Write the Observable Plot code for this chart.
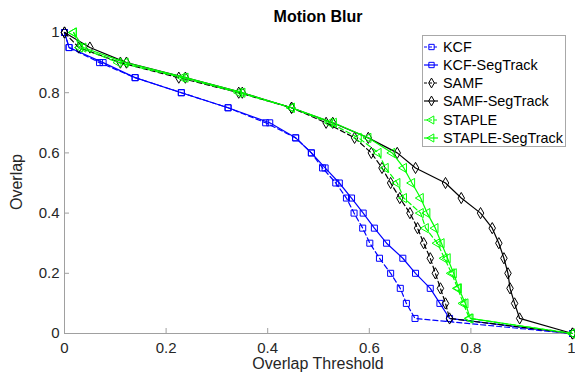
<!DOCTYPE html>
<html><head><meta charset="utf-8">
<script src="https://cdn.jsdelivr.net/npm/d3@7"></script>
<script src="https://cdn.jsdelivr.net/npm/@observablehq/plot@0.6"></script>
<style>
body{margin:0;background:#fff;}
#wrap{position:relative;width:575px;height:380px;font-family:"Liberation Sans",Arial,Helvetica,sans-serif;}
.lbl{position:absolute;color:#262626;white-space:nowrap;line-height:16px;font-size:16px;}
#legend{position:absolute;left:422px;top:35px;width:144px;height:112px;box-sizing:border-box;border:1px solid #a8a8a8;background:#fff;}
.lrow{position:absolute;left:0;height:18px;line-height:18px;font-size:14.4px;color:#000;white-space:nowrap;}
.lrow svg{position:absolute;left:0;top:0;}
.lrow span{position:absolute;left:20px;top:0;}
</style></head><body><div id="wrap"></div>
<script>
// Overlap levels at which each curve is sampled
const levels = [1, 0.95, 0.9, 0.85, 0.8, 0.75, 0.7, 0.65, 0.6, 0.55, 0.5, 0.45, 0.4, 0.35, 0.3, 0.25, 0.2, 0.15, 0.1, 0.05, 0];
// Overlap threshold (x) per series at each level
const kcf       = [0, 0.009, 0.069, 0.139, 0.23, 0.322, 0.396, 0.455, 0.486, 0.508, 0.534, 0.555, 0.570, 0.587, 0.601, 0.620, 0.642, 0.661, 0.673, 0.690, 1];
const kcfSeg    = [0, 0.009, 0.076, 0.139, 0.23, 0.322, 0.404, 0.455, 0.486, 0.513, 0.541, 0.565, 0.588, 0.610, 0.634, 0.666, 0.691, 0.720, 0.739, 0.758, 1];
const samf      = [0, 0.028, 0.110, 0.225, 0.343, 0.447, 0.515, 0.571, 0.604, 0.625, 0.642, 0.660, 0.680, 0.695, 0.707, 0.720, 0.730, 0.740, 0.750, 0.758, 1];
const samfSeg   = [0, 0.050, 0.122, 0.238, 0.350, 0.447, 0.528, 0.598, 0.655, 0.691, 0.750, 0.781, 0.819, 0.842, 0.855, 0.865, 0.873, 0.877, 0.886, 0.896, 1];
const staple    = [0.018, 0.030, 0.106, 0.232, 0.343, 0.447, 0.522, 0.579, 0.618, 0.632, 0.655, 0.668, 0.701, 0.711, 0.734, 0.748, 0.762, 0.774, 0.785, 0.797, 1];
const stapleSeg = [0.018, 0.037, 0.120, 0.238, 0.350, 0.447, 0.530, 0.598, 0.645, 0.668, 0.684, 0.701, 0.714, 0.730, 0.742, 0.754, 0.766, 0.776, 0.789, 0.799, 1];

const seriesNames = ["KCF", "KCF-SegTrack", "SAMF", "SAMF-SegTrack", "STAPLE", "STAPLE-SegTrack"];
const seriesValues = [kcf, kcfSeg, samf, samfSeg, staple, stapleSeg];
const seriesColors = ["#0000ff", "#0000ff", "#000000", "#000000", "#00ff00", "#00ff00"];
const seriesDashed = [true, false, true, false, true, false];
const seriesMarker = ["square", "square", "diamond", "diamond", "tri", "tri"];

const xTicksInner = [0, 0.2, 0.4, 0.6, 0.8];
const xTicksEnd = [1];
const yTicks = [0, 0.2, 0.4, 0.6, 0.8, 1];

const triLeft = {
  draw(ctx, size) {
    const h = Math.sqrt(size / (Math.sqrt(3) * 3));
    ctx.moveTo(-2 * h, 0);
    ctx.lineTo(h, -Math.sqrt(3) * h);
    ctx.lineTo(h, Math.sqrt(3) * h);
    ctx.closePath();
  }
};
const symOf = m => m === "tri" ? triLeft : m === "square" ? d3.symbolSquare : d3.symbolDiamond;
const fmt = d => (d === 0 || d === 1) ? String(d) : d.toFixed(1);

const axisStyle = {tickFormat: fmt, tickSize: -5, stroke: "#a0a0a0", fill: "#262626", fontSize: 15, label: null};
const marks = [
  Plot.ruleX([0], {stroke: "#a0a0a0"}),
  Plot.ruleY([0], {stroke: "#a0a0a0"}),
  Plot.axisX({...axisStyle, ticks: xTicksInner, tickPadding: 14}),
  Plot.axisX({...axisStyle, ticks: xTicksEnd, tickPadding: 14, textAnchor: "end", dx: 3}),
  Plot.axisY({...axisStyle, ticks: yTicks, tickPadding: 10})
];
seriesNames.forEach((name, s) => {
  const data = seriesValues[s].map((x, i) => ({x, y: levels[i]}));
  marks.push(Plot.line(data, {x: "x", y: "y", stroke: seriesColors[s], strokeWidth: 1.2, strokeDasharray: seriesDashed[s] ? "5,3" : null}));
  marks.push(Plot.dot(data, {x: "x", y: "y", symbol: symOf(seriesMarker[s]), r: 3.4, stroke: seriesColors[s], fill: "none", strokeWidth: 1}));
});

const chart = Plot.plot({
  width: 575, height: 380,
  marginTop: 32, marginRight: 3, marginBottom: 47, marginLeft: 64,
  x: {domain: [0, 1], label: null},
  y: {domain: [0, 1], label: null},
  style: {fontFamily: '"Liberation Sans", Arial, Helvetica, sans-serif', background: "#fff", overflow: "visible"},
  marks
});

const wrap = document.getElementById("wrap");
wrap.appendChild(chart);

function addLabel(text, css) {
  const d = document.createElement("div");
  d.className = "lbl";
  d.textContent = text;
  Object.assign(d.style, css);
  wrap.appendChild(d);
}
addLabel("Motion Blur", {left: "218px", width: "200px", textAlign: "center", top: "9px", fontWeight: "bold", color: "#000"});
addLabel("Overlap Threshold", {left: "218px", width: "200px", textAlign: "center", top: "356px"});
addLabel("Overlap", {left: "-33.5px", width: "100px", textAlign: "center", top: "174px", transform: "rotate(-90deg)"});

const legend = document.createElement("div");
legend.id = "legend";
seriesNames.forEach((name, s) => {
  const row = document.createElement("div");
  row.className = "lrow";
  row.style.top = (11.7 + s * 18.2 - 9 - 1) + "px";
  const path = d3.symbol(symOf(seriesMarker[s]), Math.PI * 9)();
  row.innerHTML = `<svg width="20" height="18"><line x1="1" x2="15" y1="9" y2="9" stroke="${seriesColors[s]}" stroke-width="1.2" ${seriesDashed[s] ? 'stroke-dasharray="3,2"' : ''}/><path d="${path}" transform="translate(8.5,9)" fill="none" stroke="${seriesColors[s]}"/></svg><span>${name}</span>`;
  legend.appendChild(row);
});
wrap.appendChild(legend);
</script>
</body></html>
